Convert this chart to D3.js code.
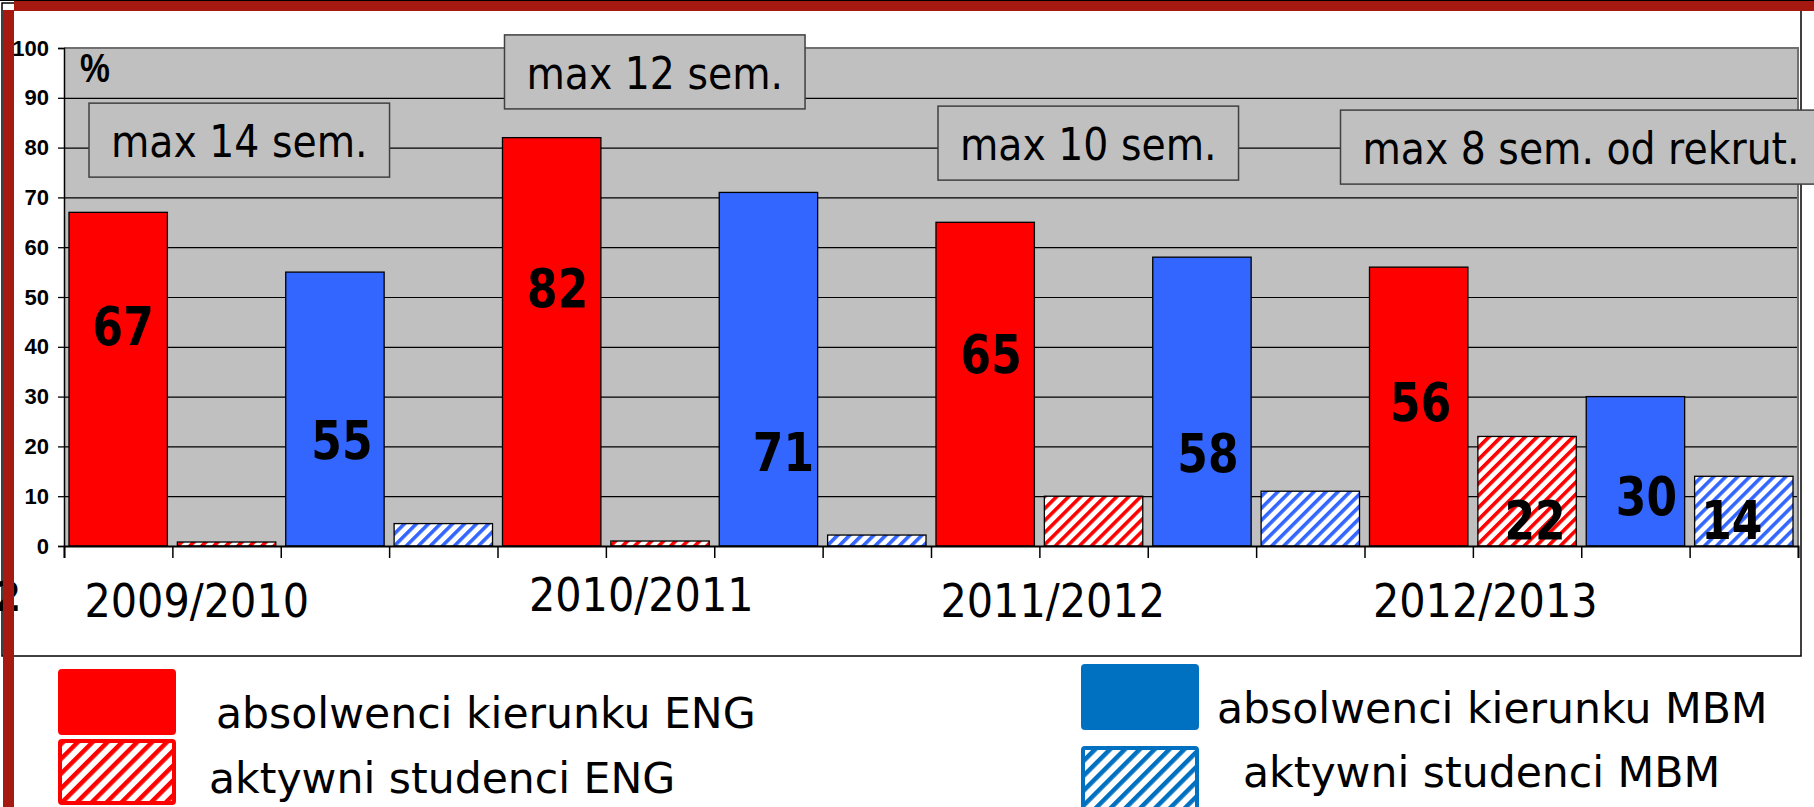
<!DOCTYPE html>
<html>
<head>
<meta charset="utf-8">
<script src="https://cdn.jsdelivr.net/npm/d3@7"></script>
<style>
  html, body { margin: 0; padding: 0; background: #fff; }
  svg { display: block; }
</style>
</head>
<body>
<div id="chart"></div>
<script>
// dane (%)
const years = ["2009/2010", "2010/2011", "2011/2012", "2012/2013"];
const series = ["absENG", "aktENG", "absMBM", "aktMBM"];
const absENG = [67, 82, 65, 56];
const aktENG = [0.8, 1, 10, 22];
const absMBM = [55, 71, 58, 30];
const aktMBM = [4.5, 2.2, 11, 14];
const yTicks = [0, 10, 20, 30, 40, 50, 60, 70, 80, 90, 100];
const semLabels = ["max 14 sem.", "max 12 sem.", "max 10 sem.", "max 8 sem. od rekrut."];
const legendLabels = ["absolwenci kierunku ENG", "aktywni studenci ENG",
                      "absolwenci kierunku MBM", "aktywni studenci MBM"];

// które słupki mają liczbę
const shown = [
  { year: 0, s: "absENG" }, { year: 0, s: "absMBM" },
  { year: 1, s: "absENG" }, { year: 1, s: "absMBM" },
  { year: 2, s: "absENG" }, { year: 2, s: "absMBM" },
  { year: 3, s: "absENG" }, { year: 3, s: "aktENG" },
  { year: 3, s: "absMBM" }, { year: 3, s: "aktMBM" }
];
// gdzie stoi liczba (linia bazowa w % i przesunięcie w px)
const numAt = [40.4, 17.5, 48, 15.1, 34.7, 14.9, 25.1, 1.4, 6.2, 1.4];
const numDx = [5, 7, 6, 15, 6, 6, 2, 8, 11, -12];
// ramki "max ... sem."
const semAt = [81.5, 95.2, 80.9, 80.1];
const semDx = [25, 7, 7, -24];
// podpisy lat
const yearDx = [-84, -73, -95, -96];
const yearDy = [0, -6, 0, 0];

const values = { absENG, aktENG, absMBM, aktMBM };
const W = 1814, H = 807;
const plot = { left: 64, top: 48, right: 1798, bottom: 546 };
const FONT = "'DejaVu Sans', Verdana, sans-serif";

const svg = d3.select("#chart").append("svg")
  .attr("width", W).attr("height", H);

const defs = svg.append("defs");
function hatch(id, color, size, stripe) {
  const p = defs.append("pattern")
    .attr("id", id)
    .attr("patternUnits", "userSpaceOnUse")
    .attr("width", size).attr("height", size)
    .attr("patternTransform", "rotate(45)");
  p.append("rect").attr("width", size).attr("height", size).attr("fill", "#fff");
  p.append("rect").attr("width", stripe).attr("height", size).attr("fill", color);
}
hatch("hENG", "#ff0000", 8.5, 3.6);
hatch("hMBM", "#3366ff", 8.5, 3.6);
hatch("lENG", "#ff0000", 10.5, 4.5);
hatch("lMBM", "#0070c0", 10.5, 4.5);

// ściska tekst w poziomie (krój jest węższy niż DejaVu), zwraca nową szerokość
function squeeze(sel, k) {
  let last = 0;
  sel.each(function() {
    const w = this.getComputedTextLength();
    last = w * k;
    d3.select(this).attr("textLength", last).attr("lengthAdjust", "spacingAndGlyphs");
  });
  return last;
}

// ramka slajdu
svg.append("rect")
  .attr("x", 2).attr("y", 3).attr("width", 1799).attr("height", 653)
  .attr("fill", "#fff").attr("stroke", "#000").attr("stroke-width", 1.5);

// skale
const x0 = d3.scaleBand().domain(d3.range(years.length)).range([plot.left, plot.right]);
const x1 = d3.scaleBand().domain(series).range([0, x0.bandwidth()])
  .paddingInner(0.092).paddingOuter(0.046);
const y = d3.scaleLinear().domain([0, 100]).range([plot.bottom, plot.top]);
const slots = d3.scaleLinear().domain([0, years.length * series.length])
  .range([plot.left, plot.right]);

// tło wykresu
svg.append("rect")
  .attr("x", plot.left).attr("y", plot.top)
  .attr("width", plot.right - plot.left).attr("height", plot.bottom - plot.top)
  .attr("fill", "#c0c0c0");

// linie siatki
svg.append("g")
  .attr("transform", `translate(${plot.left},0)`)
  .call(d3.axisLeft(y).tickValues(yTicks.slice(1, -1))
    .tickSize(-(plot.right - plot.left)).tickFormat(""))
  .call(g => g.select(".domain").remove())
  .call(g => g.selectAll("line").attr("stroke", "#000").attr("stroke-width", 1.2));

// obramowanie góra / prawo
svg.append("path")
  .attr("d", `M${plot.left},${plot.top}H${plot.right}V${plot.bottom}`)
  .attr("fill", "none").attr("stroke", "#707070").attr("stroke-width", 2);

// słupki
const fills = { absENG: "#ff0000", aktENG: "url(#hENG)", absMBM: "#3366ff", aktMBM: "url(#hMBM)" };
const rows = years.flatMap((yr, i) => series.map(s => ({ i, s, v: values[s][i] })));

svg.append("g").selectAll("rect")
  .data(rows)
  .enter()
  .append("rect")
  .attr("x", d => x0(d.i) + x1(d.s))
  .attr("y", d => y(d.v))
  .attr("width", x1.bandwidth())
  .attr("height", d => y(0) - y(d.v))
  .attr("fill", d => fills[d.s])
  .attr("stroke", "#000")
  .attr("stroke-width", 1.3);

// oś Y
svg.append("g")
  .attr("transform", `translate(${plot.left},0)`)
  .call(d3.axisLeft(y).tickValues(yTicks).tickSize(6).tickPadding(9))
  .call(g => g.select(".domain").attr("stroke", "#000").attr("stroke-width", 1.5))
  .call(g => g.selectAll("line").attr("stroke", "#000").attr("stroke-width", 1.3))
  .call(g => g.selectAll("text")
    .attr("font-family", "'Liberation Sans', Arial, sans-serif")
    .attr("font-weight", "bold").attr("font-size", 22).attr("fill", "#000"));

// oś X (podziałka między słupkami)
svg.append("g")
  .attr("transform", `translate(0,${plot.bottom})`)
  .call(d3.axisBottom(slots).tickValues(d3.range(years.length * series.length + 1))
    .tickSize(12).tickFormat(""))
  .call(g => g.select(".domain").attr("stroke", "#000").attr("stroke-width", 1.8))
  .call(g => g.selectAll("line").attr("stroke", "#000").attr("stroke-width", 1.5));

// liczby na słupkach
const nums = svg.append("g").selectAll("text")
  .data(shown)
  .enter()
  .append("text")
  .attr("x", (d, k) => x0(d.year) + x1(d.s) + x1.bandwidth() / 2 + numDx[k])
  .attr("y", (d, k) => y(numAt[k]))
  .attr("text-anchor", "middle")
  .attr("font-family", FONT)
  .attr("font-weight", "bold")
  .attr("font-size", 53)
  .attr("fill", "#000")
  .text(d => values[d.s][d.year]);
squeeze(nums, 0.83);

// "%"
const pct = svg.append("text")
  .attr("x", plot.left + 16).attr("y", y(93.2))
  .attr("font-family", "'Liberation Sans', Arial, sans-serif")
  .attr("font-weight", "bold").attr("font-size", 40)
  .text("%");
squeeze(pct, 0.84);

// podpisy lat
const yl = svg.append("g").selectAll("text")
  .data(years)
  .enter()
  .append("text")
  .attr("x", (d, i) => x0(i) + x0.bandwidth() / 2 + yearDx[i])
  .attr("y", (d, i) => plot.bottom + 71 + yearDy[i])
  .attr("text-anchor", "middle")
  .attr("font-family", FONT)
  .attr("font-size", 46)
  .attr("fill", "#000")
  .text(d => d);
squeeze(yl, 0.9);

// ucięta cyfra przy lewej krawędzi
svg.append("text")
  .attr("x", 21).attr("y", 611)
  .attr("text-anchor", "end")
  .attr("font-family", FONT).attr("font-weight", "bold").attr("font-size", 40)
  .text("2");

// ramki z opisem semestrów
semLabels.forEach((t, i) => {
  const g = svg.append("g");
  const cy = y(semAt[i]);
  const left = x0(i) + semDx[i];
  const box = g.append("rect")
    .attr("y", cy - 37).attr("height", 74)
    .attr("fill", "#c0c0c0").attr("stroke", "#404040").attr("stroke-width", 1.5);
  const txt = g.append("text")
    .attr("y", cy + 17)
    .attr("text-anchor", "middle")
    .attr("font-family", FONT).attr("font-size", 45).attr("fill", "#000")
    .text(t);
  const w = squeeze(txt, 0.875) + 44;
  box.attr("x", left).attr("width", w);
  txt.attr("x", left + w / 2);
});

// legenda
const legFill = ["#ff0000", "url(#lENG)", "#0070c0", "url(#lMBM)"];
const legStroke = ["#ff0000", "#ff0000", "#0070c0", "#0070c0"];
const legBox = [[58, 669], [58, 739], [1081, 664], [1081, 746]];
const legText = [[216, 728], [209, 793], [1217, 723], [1243, 787]];

const leg = svg.append("g").selectAll("g")
  .data(legendLabels)
  .enter()
  .append("g");
leg.append("rect")
  .attr("x", (d, i) => legBox[i][0] + 2).attr("y", (d, i) => legBox[i][1] + 2)
  .attr("width", 114).attr("height", 62).attr("rx", 2)
  .attr("fill", (d, i) => legFill[i])
  .attr("stroke", (d, i) => legStroke[i]).attr("stroke-width", 4);
leg.append("text")
  .attr("x", (d, i) => legText[i][0]).attr("y", (d, i) => legText[i][1])
  .attr("font-family", FONT).attr("font-size", 43).attr("fill", "#000")
  .text(d => d);
squeeze(leg.selectAll("text"), 0.99);

// czerwone pasy slajdu
svg.append("rect").attr("x", 14).attr("y", 0).attr("width", W - 14).attr("height", 11)
  .attr("fill", "#a51910");
svg.append("rect").attr("x", 3).attr("y", 10).attr("width", 11).attr("height", H - 10)
  .attr("fill", "#a51910");
svg.append("line").attr("x1", 0).attr("x2", W).attr("y1", 0.5).attr("y2", 0.5)
  .attr("stroke", "#000").attr("stroke-width", 1);
</script>
</body>
</html>
